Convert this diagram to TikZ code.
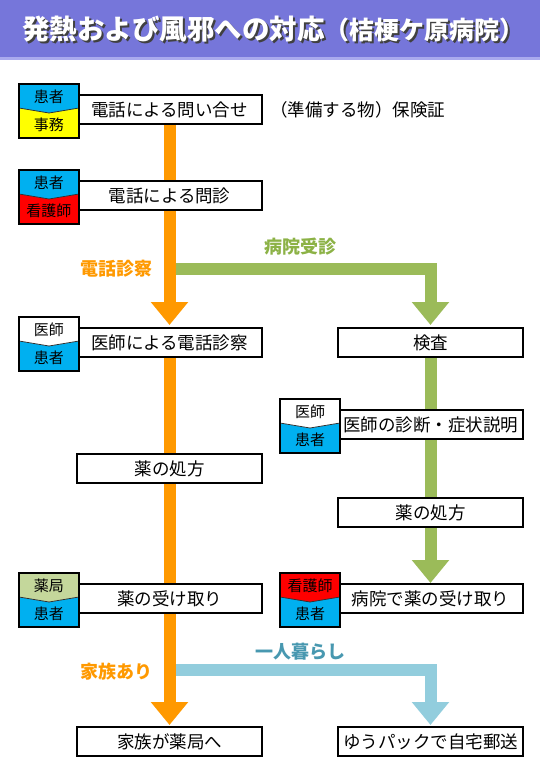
\documentclass[tikz,border=0pt]{standalone}
\usepackage{fontspec}
\setmainfont{Noto Sans CJK JP}
\usepackage{tikz}
\usetikzlibrary{arrows.meta,positioning,calc,backgrounds}
\definecolor{bannerblue}{RGB}{118,118,218}
\definecolor{banneredge}{RGB}{170,170,238}
\definecolor{flowOrange}{RGB}{255,153,0}
\definecolor{flowGreen}{RGB}{155,187,89}
\definecolor{flowBlue}{RGB}{146,205,221}
\definecolor{labelGreen}{RGB}{140,178,70}
\definecolor{labelTeal}{RGB}{72,152,176}
\definecolor{roleBlue}{RGB}{0,176,240}
\definecolor{roleYellow}{RGB}{255,255,0}
\definecolor{roleRed}{RGB}{255,0,0}
\definecolor{roleGreen}{RGB}{196,215,155}
\tikzset{
  flowbox/.style={
    rectangle,
    draw=black,
    line width=1.8pt,
    fill=white,
    minimum width=185pt,
    minimum height=29pt,
    inner sep=0pt,
    outer sep=0pt,
    align=center,
    font=\fontsize{17.5}{20}\selectfont
  },
  rolebox/.style={
    rectangle,
    minimum width=60pt,
    minimum height=54pt,
    inner sep=0pt,
    outer sep=0pt
  },
  roleframe/.style={draw=black, line width=2pt},
  chevron/.style={draw=black!80, line width=0.8pt},
  roletext/.style={inner sep=0pt, font=\fontsize{15}{17}\selectfont},
  branchlabel/.style={inner sep=0pt, font=\bfseries\fontsize{18}{20}\selectfont},
  titletext/.style={inner sep=0pt, anchor=west, font=\bfseries\fontsize{27.5}{30}\selectfont},
  bar/.style={line width=12pt, line join=miter},
  orangebar/.style={bar, draw=flowOrange},
  greenbar/.style={bar, draw=flowGreen},
  bluebar/.style={bar, draw=flowBlue},
  headtip/.style={-{Triangle[width=36pt,length=23pt]}, shorten >=3pt}
}
\newcommand{\roletag}[6]{%
  \node[rolebox, fill=#6, left=-2pt of #2, yshift=-1.5pt] (#1) {};
  \fill[#4] (#1.north west) -- (#1.north east) -- ([yshift=-24pt]#1.north east)
    -- ([yshift=-29pt]#1.north) -- ([yshift=-24pt]#1.north west) -- cycle;
  \draw[chevron] ([yshift=-24pt]#1.north west) -- ([yshift=-29pt]#1.north) -- ([yshift=-24pt]#1.north east);
  \draw[roleframe] (#1.north west) rectangle (#1.south east);
  \node[roletext] (#1-top) at ([yshift=-12.5pt]#1.north) {#3};
  \node[roletext] (#1-bot) at ([yshift=13pt]#1.south) {#5};
}

\begin{document}
\begin{tikzpicture}[x=1pt, y=-1pt]
\useasboundingbox (0,0) rectangle (540,780);
\fill[bannerblue] (0,0) rectangle (540,57);
\fill[banneredge] (0,57) rectangle (540,60);
\node[titletext, text=black!75] (titleshadow) at (24,31) {発熱および風邪への対応{\fontsize{25}{28}\selectfont（桔梗ケ原病院）}};
\node[titletext, text=white] (title) at (22,29) {発熱および風邪への対応{\fontsize{25}{28}\selectfont（桔梗ケ原病院）}};

\node[flowbox] (call) at (169.5,109.5) {電話による問い合せ};
\node[flowbox, below=57pt of call] (triage) {電話による問診};
\node[flowbox, below=118pt of triage] (telemed) {医師による電話診察};
\node[flowbox, below=97pt of telemed] (rxL) {薬の処方};
\node[flowbox, below=101pt of rxL] (pickL) {薬の受け取り};
\node[flowbox, below=114pt of pickL] (family) {家族が薬局へ};
\node[flowbox, right=76pt of telemed] (exam) {検査};
\node[flowbox, below=53pt of exam] (diag) {医師の診断・症状説明};
\node[flowbox, below=59pt of diag] (rxR) {薬の処方};
\node[flowbox, below=57pt of rxR] (pickR) {病院で薬の受け取り};
\node[flowbox, right=76pt of family] (mail) {ゆうパックで自宅郵送};
\node[inner sep=0pt, anchor=west, font=\fontsize{17.5}{20}\selectfont] (bring) at (270,110) {（準備する物）保険証};

\coordinate (telfork) at ($(triage.south)!0.5!(telemed.north)$);
\coordinate (famfork) at ($(pickL.south)!0.5!(family.north)$);

\begin{scope}[on background layer]
\draw[greenbar, headtip] (telfork) -| (exam.north);
\draw[greenbar] (exam) -- (diag);
\draw[greenbar] (diag) -- (rxR);
\draw[greenbar, headtip, shorten >=1pt] (rxR) -- (pickR);
\draw[bluebar, headtip, shorten >=2pt] (famfork) -| (mail.north);
\draw[orangebar] (call) -- (triage);
\draw[orangebar, headtip] (triage) -- (telemed);
\draw[orangebar] (telemed) -- (rxL);
\draw[orangebar] (rxL) -- (pickL);
\draw[orangebar, headtip, shorten >=2pt] (pickL) -- (family);
\end{scope}

\node[branchlabel, text=flowOrange, anchor=east] (telelabel) at ($(telfork)+(-17pt,0)$) {電話診察};
\node[branchlabel, text=labelGreen, yshift=22.5pt] (visitlabel) at ($(telfork)!0.5!(telfork -| exam.north)$) {病院受診};
\node[branchlabel, text=flowOrange, anchor=east, yshift=-2pt] (familylabel) at ($(famfork)+(-17pt,0)$) {家族あり};
\node[branchlabel, text=labelTeal, yshift=18pt] (alonelabel) at ($(famfork)!0.5!(famfork -| mail.north)$) {一人暮らし};

\roletag{tagcall}{call}{患者}{roleBlue}{事務}{roleYellow}
\roletag{tagtriage}{triage}{患者}{roleBlue}{看護師}{roleRed}
\roletag{tagtelemed}{telemed}{医師}{white}{患者}{roleBlue}
\roletag{tagdiag}{diag}{医師}{white}{患者}{roleBlue}
\roletag{tagpickL}{pickL}{薬局}{roleGreen}{患者}{roleBlue}
\roletag{tagpickR}{pickR}{看護師}{roleRed}{患者}{roleBlue}
\end{tikzpicture}
\end{document}
